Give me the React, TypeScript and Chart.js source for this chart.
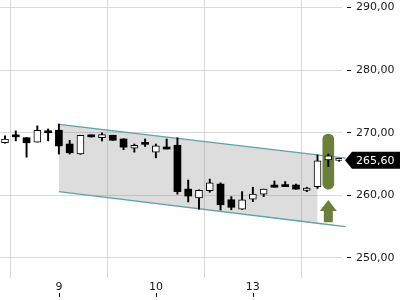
import React, { useEffect, useRef } from 'react';
import { Chart, registerables } from 'chart.js';
Chart.register(...registerables);

// ---- data ----
const xTickIndex = [5, 14, 23];
const xTickLabels = ['9', '10', '13'];
const yTicks = [250, 260, 270, 280, 290];

const opens = [268.4, 269.4, 269.2, 268.5, 270.3, 270.4, 268.2, 266.6, 269.5, 269.2, 269.6, 269.0, 267.55, 268.2, 266.9, 267.6,
  268.0, 261.0, 259.6, 260.75, 261.8, 259.3, 257.8, 259.4, 260.2, 261.65, 261.65, 261.65, 260.8, 261.4, 265.65, 265.6];
const highs = [269.5, 270.3, 269.25, 271.1, 270.6, 271.4, 268.8, 269.6, 269.65, 270.0, 269.6, 269.05, 268.2, 269.0, 268.2, 269.0,
  269.2, 262.45, 260.9, 262.6, 262.0, 259.8, 260.6, 261.3, 261.0, 262.3, 262.2, 261.8, 261.3, 266.45, 266.6, 265.85];
const lows = [268.35, 268.7, 266.1, 268.5, 268.7, 266.6, 266.6, 266.55, 269.3, 268.7, 268.8, 267.3, 266.9, 267.8, 266.0, 267.4,
  260.2, 258.95, 257.8, 260.5, 257.66, 257.7, 257.75, 259.0, 259.8, 261.3, 261.4, 261.0, 260.6, 261.1, 264.6, 265.45];
const closes = [269.0, 269.35, 268.4, 270.4, 270.0, 267.9, 266.8, 269.6, 269.35, 269.7, 268.8, 267.7, 268.0, 268.15, 267.9, 267.4,
  260.6, 259.9, 260.8, 262.0, 258.5, 258.1, 259.3, 260.2, 261.0, 261.3, 261.4, 261.0, 261.15, 265.5, 266.3, 265.6];

const channelX = [5, 29, 31.6];
const channelUpper = [271.35, 266.48, 265.95];
const channelLower = [260.6, 255.55, 255.0];

const signalIndex = 30;
const signalRange = [261.0, 269.8];
const arrowTop = 259.26;
const arrowNeck = 257.5;
const arrowBottom = 255.7;
const lastPrice = 265.6;

const OLIVE = '#6b7f3a';
const FONT = { family: 'DejaVu Sans', size: 11 };

const extrasPlugin = {
  id: 'extras',
  afterDatasetsDraw(chart: any) {
    const ctx = chart.ctx;
    const xs = chart.scales.x;
    const ys = chart.scales.y;
    const area = chart.chartArea;
    ctx.save();
    // arrow
    const ax = xs.getPixelForValue(signalIndex);
    const yT = ys.getPixelForValue(arrowTop);
    const yN = ys.getPixelForValue(arrowNeck);
    const yB = ys.getPixelForValue(arrowBottom);
    ctx.fillStyle = OLIVE;
    ctx.beginPath();
    ctx.moveTo(ax, yT);
    ctx.lineTo(ax + 8.5, yN);
    ctx.lineTo(ax + 4.5, yN);
    ctx.lineTo(ax + 4.5, yB);
    ctx.lineTo(ax - 4.5, yB);
    ctx.lineTo(ax - 4.5, yN);
    ctx.lineTo(ax - 8.5, yN);
    ctx.closePath();
    ctx.fill();
    ctx.restore();
  },
  afterDraw(chart: any) {
    const ctx = chart.ctx;
    const xs = chart.scales.x;
    const ys = chart.scales.y;
    const area = chart.chartArea;
    ctx.save();
    // price tag
    const py = ys.getPixelForValue(lastPrice);
    const tip = area.right + 3;
    ctx.fillStyle = '#000';
    ctx.beginPath();
    ctx.moveTo(tip, py);
    ctx.lineTo(tip + 7, py - 8.5);
    ctx.lineTo(chart.width, py - 8.5);
    ctx.lineTo(chart.width, py + 8.5);
    ctx.lineTo(tip + 7, py + 8.5);
    ctx.closePath();
    ctx.fill();
    ctx.fillStyle = '#fff';
    ctx.font = '11px "DejaVu Sans"';
    ctx.textAlign = 'left';
    ctx.textBaseline = 'middle';
    ctx.fillText(lastPrice.toFixed(2).replace('.', ','), area.right + 14, py + 0.5);
    // x tick marks below labels
    ctx.strokeStyle = '#000';
    ctx.lineWidth = 1;
    xTickIndex.forEach((v) => {
      const x = Math.round(xs.getPixelForValue(v)) + 0.5;
      ctx.beginPath();
      ctx.moveTo(x, xs.top + 15);
      ctx.lineTo(x, xs.top + 19);
      ctx.stroke();
    });
    ctx.restore();
  },
};

export default function App() {
  const ref = useRef<HTMLCanvasElement>(null);
  useEffect(() => {
    if (!ref.current) return;
    const idx = opens.map((_, i) => i);
    const up = idx.filter((i) => closes[i] >= opens[i]);
    const down = idx.filter((i) => closes[i] < opens[i]);
    const chart = new Chart(ref.current, {
      type: 'bar',
      data: {
        datasets: [
          {
            type: 'bar',
            data: up.map((i) => ({ x: i, y: [opens[i], closes[i]] })),
            backgroundColor: '#fff',
            borderColor: '#000',
            borderWidth: 1,
            borderSkipped: false,
            barThickness: 7,
            minBarLength: 2,
            grouped: false,
            order: 0,
          } as any,
          {
            type: 'bar',
            data: down.map((i) => ({ x: i, y: [opens[i], closes[i]] })),
            backgroundColor: '#000',
            borderWidth: 0,
            barThickness: 7,
            minBarLength: 2,
            grouped: false,
            order: 0,
          } as any,
          {
            type: 'bar',
            data: idx.map((i) => ({ x: i, y: [lows[i], highs[i]] })),
            backgroundColor: '#000',
            borderWidth: 0,
            barThickness: 1.3,
            grouped: false,
            order: 1,
          } as any,
          {
            type: 'bar',
            data: [{ x: signalIndex, y: signalRange }],
            backgroundColor: OLIVE,
            borderWidth: 0,
            borderSkipped: false,
            borderRadius: 6,
            barThickness: 11,
            grouped: false,
            order: 2,
          } as any,
          {
            type: 'line',
            data: channelX.map((x, i) => ({ x, y: channelUpper[i] })),
            borderColor: '#5fa3a8',
            borderWidth: 1.3,
            pointRadius: 0,
            fill: false,
            clip: false,
            order: 3,
          } as any,
          {
            type: 'line',
            data: channelX.map((x, i) => ({ x, y: channelLower[i] })),
            borderColor: '#5fa3a8',
            borderWidth: 1.3,
            pointRadius: 0,
            fill: false,
            clip: false,
            order: 3,
          } as any,
          {
            type: 'line',
            data: channelX.slice(0, 2).map((x, i) => ({ x, y: channelUpper[i] })),
            borderWidth: 0,
            pointRadius: 0,
            fill: '+1',
            backgroundColor: 'rgba(128,128,128,0.27)',
            order: 4,
          } as any,
          {
            type: 'line',
            data: channelX.slice(0, 2).map((x, i) => ({ x, y: channelLower[i] })),
            borderWidth: 0,
            pointRadius: 0,
            fill: false,
            order: 4,
          } as any,
        ],
      },
      options: {
        animation: false,
        responsive: false,
        layout: { padding: 0 },
        plugins: { legend: { display: false }, tooltip: { enabled: false } },
        scales: {
          x: {
            type: 'linear',
            min: -0.464,
            max: 31.27,
            offset: false,
            afterBuildTicks: (s: any) => {
              s.ticks = xTickIndex.map((v) => ({ value: v }));
            },
            afterFit: (s: any) => {
              s.height = 22;
              s.paddingLeft = 0;
              s.paddingRight = 0;
            },
            border: { display: false },
            grid: { color: '#d9d9d9', lineWidth: 1, drawTicks: false },
            ticks: {
              autoSkip: false,
              maxRotation: 0,
              padding: 3,
              color: '#1a1a1a',
              font: FONT,
              callback: (v: any) => {
                const k = xTickIndex.indexOf(v);
                return k >= 0 ? xTickLabels[k] : '';
              },
            },
          },
          y: {
            type: 'linear',
            position: 'right',
            min: 246.806,
            max: 291.198,
            afterBuildTicks: (s: any) => {
              s.ticks = yTicks.map((v) => ({ value: v }));
            },
            afterFit: (s: any) => {
              s.width = 58;
              s.paddingTop = 0;
              s.paddingBottom = 0;
            },
            border: { display: false },
            grid: {
              color: '#d9d9d9',
              lineWidth: 1,
              drawTicks: true,
              tickLength: 9,
              tickColor: '#000',
              tickWidth: 1,
              tickBorderDash: [4, 5],
              tickBorderDashOffset: 4,
            },
            ticks: {
              padding: 5,
              color: '#1a1a1a',
              font: FONT,
              callback: (v: any) => Number(v).toFixed(2).replace('.', ','),
            },
          },
        },
      },
      plugins: [extrasPlugin],
    });
    return () => chart.destroy();
  }, []);
  return (
    <div style={{ position: 'fixed', left: 0, top: 0, width: 400, height: 300, background: '#fff' }}>
      <canvas ref={ref} width={400} height={300} style={{ display: 'block', width: 400, height: 300 }} />
    </div>
  );
}
